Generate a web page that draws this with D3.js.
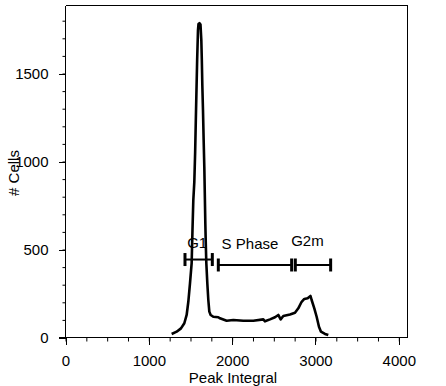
<!DOCTYPE html>
<html>
<head>
<meta charset="utf-8">
<script src="https://cdn.jsdelivr.net/npm/d3@7"></script>
<style>
  body { margin: 0; background: #fff; }
  svg { display: block; }
</style>
</head>
<body>
<div id="chart"></div>
<script>
// Histogram trace
const peakIntegral = [1274, 1334, 1386, 1426, 1454, 1474, 1494, 1514, 1524, 1534, 1546, 1556, 1564, 1572, 1580, 1590, 1596, 1608, 1620,
    1630, 1636, 1642, 1650, 1658, 1666, 1672, 1678, 1684, 1690, 1702, 1714, 1726, 1742, 1774, 1834,
    1854, 1934, 2014, 2134, 2254, 2374, 2394, 2454, 2514, 2554, 2582, 2614, 2694, 2754, 2794, 2834, 2866, 2906, 2940, 2954,
    2986, 3014, 3042, 3066, 3114, 3154];
const cellCount = [20, 33, 52, 81, 128, 203, 308, 422, 611, 781, 884, 1054, 1236, 1406, 1577, 1747, 1781, 1786, 1778,
    1690, 1577, 1435, 1293, 1122, 969, 810, 651, 526, 423, 308, 213, 147, 128, 118, 115,
    109, 95, 99, 95, 95, 103, 92, 103, 115, 128, 103, 122, 131, 141, 166, 203, 219, 223, 236, 213,
    166, 118, 61, 33, 20, 14];

// Gate markers
const gateNames = ["G1", "S Phase", "G2m"];
const gateStart = [1434, 1834, 2758];
const gateEnd = [1762, 2714, 3182];
const gateLevel = [443, 412, 412];

// Axis ticks
const xMajor = [0, 1000, 2000, 3000, 4000];
const yMajor = [0, 500, 1000, 1500];
const xMinor = d3.range(0, 4101, 250);
const yMinor = d3.range(0, 1801, 100);
const xMax = 4102;
const yMax = 1886;

const width = 446, height = 386;
const font = '"Liberation Sans", Arial, sans-serif';

const XScale = d3.scaleLinear().domain([0, 4000]).range([65.5, 398.8]);
const YScale = d3.scaleLinear().domain([0, 1500]).range([337.5, 73.5]);

const svg = d3.select("#chart")
    .append("svg")
    .attr("width", width)
    .attr("height", height);

svg.append("rect").attr("width", width).attr("height", height).attr("fill", "#fff");

// frame (top and right)
svg.append("path")
    .attr("d", `M${XScale(0)},${YScale(yMax)}H${XScale(xMax)}V${YScale(0)}`)
    .attr("fill", "none")
    .attr("stroke", "#000")
    .attr("shape-rendering", "crispEdges");

// minor ticks
svg.append("g")
    .attr("transform", `translate(0,${YScale(0)})`)
    .call(d3.axisBottom(XScale).tickValues(xMinor).tickSize(4).tickFormat(""))
    .call(g => g.select(".domain").remove());
svg.append("g")
    .attr("transform", `translate(${XScale(0)},0)`)
    .call(d3.axisLeft(YScale).tickValues(yMinor).tickSize(3).tickFormat(""))
    .call(g => g.select(".domain").remove());

// major axes
const XAxis = svg.append("g")
    .attr("transform", `translate(0,${YScale(0)})`)
    .call(d3.axisBottom(XScale).tickValues(xMajor).tickSize(7).tickSizeOuter(0).tickPadding(11).tickFormat(d3.format("d")));
const YAxis = svg.append("g")
    .attr("transform", `translate(${XScale(0)},0)`)
    .call(d3.axisLeft(YScale).tickValues(yMajor).tickSize(7).tickSizeOuter(0).tickPadding(10).tickFormat(d3.format("d")));

XAxis.select(".domain").attr("d", `M${XScale(0) - 7},0H${XScale(xMax)}`);
YAxis.select(".domain").attr("d", `M0,${YScale(0)}V${YScale(yMax)}`);
[XAxis, YAxis].forEach(a => {
    a.attr("font-family", font).attr("font-size", 15);
    a.selectAll("path, line").attr("shape-rendering", "crispEdges");
    a.selectAll("text").attr("fill", "#000");
});

// axis titles
svg.append("text")
    .attr("x", 233)
    .attr("y", 382.5)
    .attr("text-anchor", "middle")
    .attr("font-family", font)
    .attr("font-size", 15)
    .text("Peak Integral");
svg.append("text")
    .attr("transform", "translate(18.5,173) rotate(-90)")
    .attr("text-anchor", "middle")
    .attr("font-family", font)
    .attr("font-size", 15)
    .text("# Cells");

// histogram line
const trace = peakIntegral.map((v, i) => [v, cellCount[i]]);
const Line = d3.line()
    .x(d => XScale(d[0]))
    .y(d => YScale(d[1]));
svg.append("path")
    .attr("d", Line(trace))
    .attr("fill", "none")
    .attr("stroke", "#000")
    .attr("stroke-width", 2.6)
    .attr("stroke-linejoin", "round");

// gate markers
const labelShift = [[-1.5, -12], [-5, -15.5], [-5.5, -18.5]];
const gates = svg.append("g");
gateNames.forEach((name, i) => {
    const x0 = XScale(gateStart[i]), x1 = XScale(gateEnd[i]), y = YScale(gateLevel[i]);
    const g = gates.append("g");
    g.append("line")
        .attr("x1", x0).attr("x2", x1).attr("y1", y).attr("y2", y)
        .attr("stroke", "#000").attr("stroke-width", 2);
    [x0, x1].forEach(x => {
        g.append("line")
            .attr("x1", x).attr("x2", x).attr("y1", y - 6.5).attr("y2", y + 6.5)
            .attr("stroke", "#000").attr("stroke-width", 3);
    });
    g.append("text")
        .attr("x", (x0 + x1) / 2 + labelShift[i][0])
        .attr("y", y + labelShift[i][1])
        .attr("text-anchor", "middle")
        .attr("font-family", font)
        .attr("font-size", 15)
        .text(name);
});
</script>
</body>
</html>
